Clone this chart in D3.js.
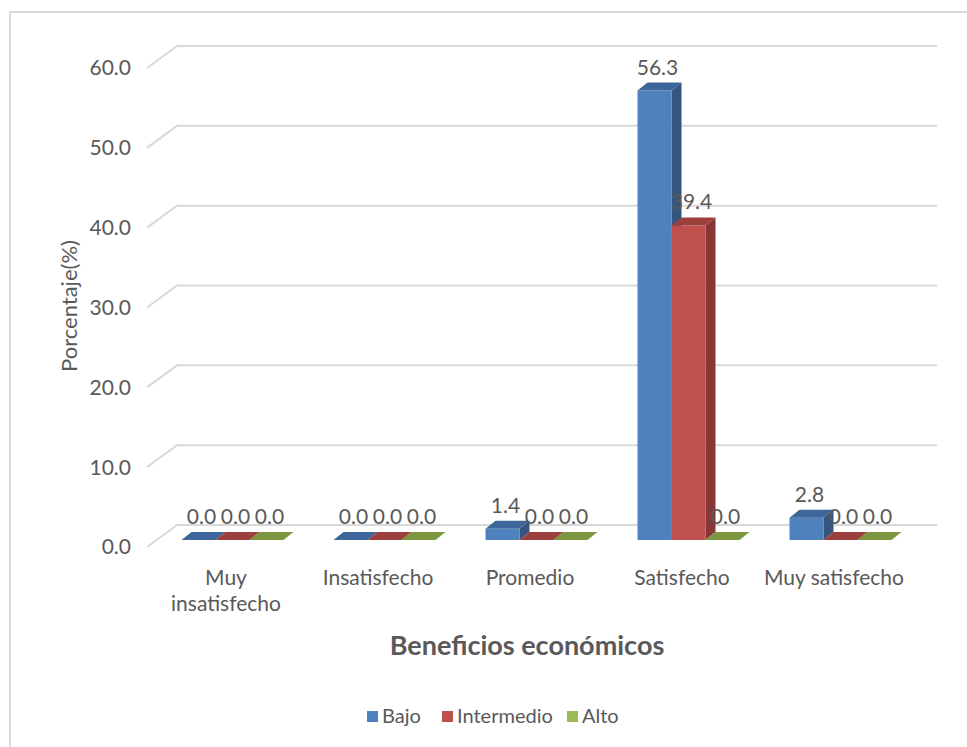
<!DOCTYPE html>
<html>
<head>
<meta charset="utf-8">
<script src="https://cdn.jsdelivr.net/npm/d3@7"></script>
<style>
  body { margin: 0; background: #fff; }
  text { font-family: Lato, "Open Sans", sans-serif; fill: #595959; }
</style>
</head>
<body>
<svg id="chart" width="967" height="747"></svg>
<script>
// data
const categories = ["Muy insatisfecho", "Insatisfecho", "Promedio", "Satisfecho", "Muy satisfecho"]
const catLines = [["Muy", "insatisfecho"], ["Insatisfecho"], ["Promedio"], ["Satisfecho"], ["Muy satisfecho"]]
const seriesNames = ["Bajo", "Intermedio", "Alto"]
const bajo = [0.0, 0.0, 1.4, 56.3, 2.8]
const intermedio = [0.0, 0.0, 0.0, 39.4, 0.0]
const alto = [0.0, 0.0, 0.0, 0.0, 0.0]
const yTicks = [0, 10, 20, 30, 40, 50, 60]

const series = [bajo, intermedio, alto]
const frontCol = ["#4F81BD", "#C0504D", "#9BBB59"]
const sideCol = ["#34557F", "#873735", "#6A8539"]
const topCol = ["#3D669A", "#9D403D", "#7A963F"]

const svg = d3.select("#chart")

// outer border
svg.append("rect").attr("x", 10).attr("y", 12).attr("width", 980).attr("height", 760)
    .attr("fill", "none").attr("stroke", "#D9D9D9").attr("stroke-width", 2)

//3D geometry: front floor edge, wall depth offset
const floorFrontY = 547, floorLeft = 147, floorRight = 907
const depthX = 30, depthY = -22
const barOffX = 9.5, barOffY = -7      // bar front plane inside floor
const barDX = 10, barDY = -8           // bar depth

const y = d3.scaleLinear().domain([0, 60]).range([0, 479])

// gridlines on back wall and left wall
const grid = svg.append("g")
yTicks.forEach(t => {
    const yf = floorFrontY - y(t)
    grid.append("path")
        .attr("d", `M${floorLeft},${yf}L${floorLeft + depthX},${yf + depthY}L${floorRight + depthX},${yf + depthY}`)
        .attr("fill", "none").attr("stroke", "#D9D9D9").attr("stroke-width", 2)
    svg.append("text").attr("x", 131).attr("y", yf).attr("dy", "0.35em")
        .attr("text-anchor", "end").style("font-size", "21px").text(t.toFixed(1))
})

// bars
const x = d3.scaleBand().domain(categories)
    .range([floorLeft + barOffX, floorRight + barOffX]).paddingInner(50 / 152).paddingOuter(25 / 152)
const xs = d3.scaleBand().domain(seriesNames).range([0, x.bandwidth()])
const baseY = floorFrontY + barOffY

const bars = svg.append("g")
categories.forEach((c, i) => {
    series.forEach((s, j) => {
        const x0 = x(c) + xs(seriesNames[j]), w = xs.bandwidth()
        const yt = baseY - y(s[i])
        const g = bars.append("g")
        // side
        g.append("path").attr("d", `M${x0 + w},${yt}L${x0 + w + barDX},${yt + barDY}L${x0 + w + barDX},${baseY + barDY}L${x0 + w},${baseY}Z`)
            .attr("fill", sideCol[j])
        // front
        g.append("rect").attr("x", x0).attr("y", yt).attr("width", w).attr("height", baseY - yt).attr("fill", frontCol[j])
        // top
        g.append("path").attr("d", `M${x0},${yt}L${x0 + barDX},${yt + barDY}L${x0 + w + barDX},${yt + barDY}L${x0 + w},${yt}Z`)
            .attr("fill", topCol[j])
    })
})

// value labels
categories.forEach((c, i) => {
    series.forEach((s, j) => {
        const x0 = x(c) + xs(seriesNames[j]), w = xs.bandwidth()
        svg.append("text").attr("x", x0 + w / 2 + 3).attr("y", baseY - y(s[i]) + barDY - 8)
            .attr("text-anchor", "middle").style("font-size", "21px").text(s[i].toFixed(1))
    })
})

// category labels
const xf = d3.scaleBand().domain(categories).range([floorLeft, floorRight])
categories.forEach((c, i) => {
    const t = svg.append("text").attr("x", xf(c) + xf.bandwidth() / 2 + 3).attr("y", 585)
        .attr("text-anchor", "middle").style("font-size", "21px")
    catLines[i].forEach((l, k) => {
        t.append("tspan").attr("x", xf(c) + xf.bandwidth() / 2 + 3).attr("dy", k == 0 ? 0 : 26).text(l)
    })
})

// axis titles
svg.append("text").attr("transform", "translate(77,306) rotate(-90)").attr("text-anchor", "middle")
    .style("font-size", "22px").text("Porcentaje(%)")
svg.append("text").attr("x", 527).attr("y", 655).attr("text-anchor", "middle")
    .style("font-size", "27px").style("font-weight", "bold").text("Beneficios económicos")

// legend
const legX = [367, 442, 567]
seriesNames.forEach((n, j) => {
    svg.append("rect").attr("x", legX[j]).attr("y", 711).attr("width", 11).attr("height", 11).attr("fill", frontCol[j])
    svg.append("text").attr("x", legX[j] + 15).attr("y", 716).attr("dy", "0.35em").style("font-size", "20px").text(n)
})
</script>
</body>
</html>
